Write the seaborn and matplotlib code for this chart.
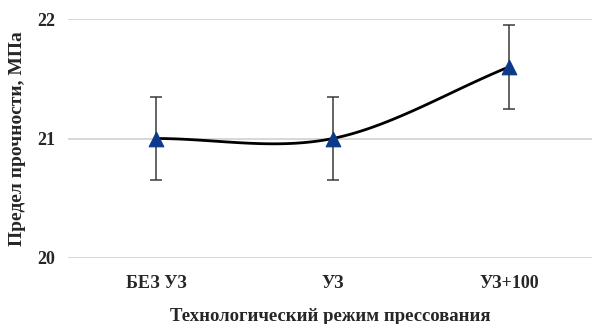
import numpy as np
import pandas as pd
import matplotlib
matplotlib.use("Agg")
import matplotlib.pyplot as plt
import seaborn as sns

categories = ["БЕЗ УЗ", "УЗ", "УЗ+100"]
strength = [21.0, 21.0, 21.6]
error = [0.35, 0.35, 0.35]
y_ticks = [20, 21, 22]

sns.set_theme(style="white")
plt.rcParams["font.family"] = ["Liberation Serif", "DejaVu Serif"]

fig = plt.figure(figsize=(5.92, 3.24), dpi=100)
ax = fig.add_axes([0.115, 0.204, 0.885, 0.737])

x = np.arange(len(categories), dtype=float)
y = np.array(strength)


def catmull_rom(xs, ys, n=60):
    # smoothed connecting line through the points (Catmull-Rom, end points mirrored)
    px = np.concatenate([[2 * xs[0] - xs[1]], xs, [2 * xs[-1] - xs[-2]]])
    py = np.concatenate([[2 * ys[0] - ys[1]], ys, [2 * ys[-1] - ys[-2]]])
    out_x, out_y = [], []
    for i in range(1, len(px) - 2):
        t = np.linspace(0, 1, n)
        for arr, out in ((px, out_x), (py, out_y)):
            p0, p1, p2, p3 = arr[i - 1], arr[i], arr[i + 1], arr[i + 2]
            out.extend(0.5 * ((2 * p1) + (-p0 + p2) * t
                              + (2 * p0 - 5 * p1 + 4 * p2 - p3) * t ** 2
                              + (-p0 + 3 * p1 - 3 * p2 + p3) * t ** 3))
    return np.array(out_x), np.array(out_y)


sx, sy = catmull_rom(x, y)
curve = pd.DataFrame({"x": sx, "y": sy})
sns.lineplot(data=curve, x="x", y="y", ax=ax, color="black", linewidth=2.0,
             sort=False, estimator=None, zorder=3)

ax.errorbar(x, y, yerr=error, fmt="none", ecolor="#3a3a3a", elinewidth=1.1,
            capsize=4.5, capthick=1.1, zorder=2)

points = pd.DataFrame({"x": x, "y": y})
sns.scatterplot(data=points, x="x", y="y", ax=ax, marker="^", s=110,
                color="#0b3a8a", edgecolor="#0b3a8a", zorder=4)

ax.set_xlim(-0.5, 2.47)
ax.set_ylim(20, 22)
ax.set_yticks(y_ticks)
ax.set_yticklabels([str(v) for v in y_ticks], fontsize=13, fontweight="bold")
ax.set_xticks(x)
ax.set_xticklabels(categories, fontsize=13, fontweight="bold")
ax.tick_params(axis="both", length=0)
ax.tick_params(axis="x", pad=12)
ax.tick_params(axis="y", pad=22)
for lab in ax.get_yticklabels():
    lab.set_horizontalalignment("left")

ax.yaxis.grid(True, color="#d4d4d4", linewidth=1.3)
ax.xaxis.grid(False)
for s in ax.spines.values():
    s.set_visible(False)

ax.set_xlabel("Технологический режим прессования", fontsize=13.5,
              fontweight="bold")
ax.xaxis.set_label_coords(0.5, -0.21)
ax.set_ylabel("Предел прочности, МПа", fontsize=14, fontweight="bold")
ax.yaxis.set_label_coords(-0.08, 0.5)

fig.savefig("out.png", dpi=100, facecolor="white")
